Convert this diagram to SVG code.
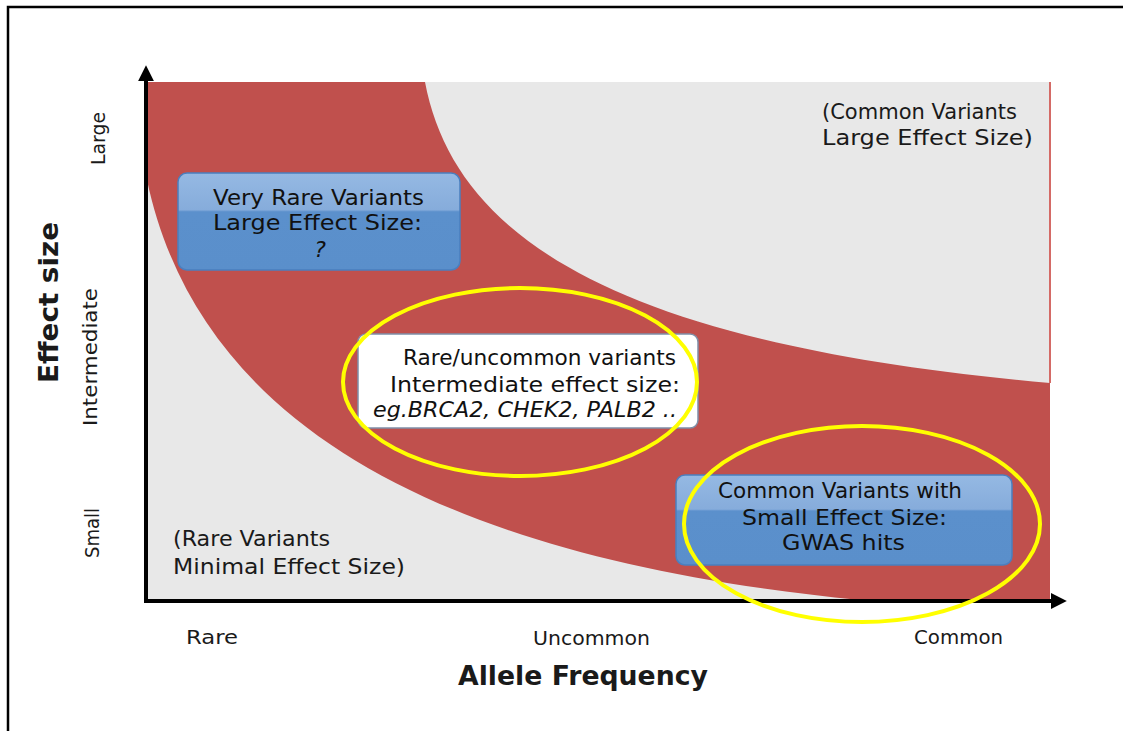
<svg xmlns="http://www.w3.org/2000/svg" width="1123" height="731" viewBox="0 0 1123 731">
  <defs>
    <style>
      .lbl { font-family: "Comic Sans MS", "DejaVu Sans", "Liberation Sans", sans-serif; fill: #1a1a1a; }
      .box-txt { font-size: 22px; fill: #111; }
      .note { font-size: 22px; }
      .tick { font-size: 20px; }
      .axis-title { font-size: 27px; font-weight: bold; }
      .axis { stroke: #000; stroke-width: 4; fill: none; }
      .ring { fill: none; stroke: #ffff00; stroke-width: 4; }
      .blue { fill: url(#gloss); stroke: #4a7fbf; stroke-width: 1.5; }
    </style>
    <linearGradient id="gloss" x1="0" y1="0" x2="0" y2="1">
      <stop offset="0" stop-color="#95b9e3"/>
      <stop offset="0.38" stop-color="#86acdb"/>
      <stop offset="0.4" stop-color="#5b90cc"/>
      <stop offset="1" stop-color="#5a8fcb"/>
    </linearGradient>
    <marker id="arrow" viewBox="0 0 10 10" refX="2" refY="5" markerWidth="4" markerHeight="4.5" orient="auto" markerUnits="strokeWidth">
      <path d="M0,0 L10,5 L0,10 z" fill="#000"/>
    </marker>
  </defs>

  <!-- outer frame -->
  <rect x="0" y="0" width="1123" height="731" fill="#fff"/>
  <path d="M8,731 V7 H1123" fill="none" stroke="#000" stroke-width="2.5"/>

  <!-- plot background and red band -->
  <g id="plot-area">
    <rect x="147" y="82" width="903" height="518" fill="#e8e8e8"/>
    <path d="M147,82 H425 C455,240 620,345 1050,383 V600 H860 C450,560 200,430 147,180 Z" fill="#c0504d"/>
    <line x1="1050" y1="82" x2="1050" y2="383" stroke="#d46a66" stroke-width="2"/>
  </g>

  <!-- axes -->
  <g id="connectors">
    <line class="axis" x1="146" y1="602" x2="146" y2="78" marker-end="url(#arrow)"/>
    <line class="axis" x1="144" y1="601" x2="1054" y2="601" marker-end="url(#arrow)"/>
  </g>

  <g id="node-very-rare">
    <rect class="blue" x="178" y="173" width="282" height="97" rx="9"/>
    <text class="lbl box-txt" x="213" y="205" textLength="211" lengthAdjust="spacingAndGlyphs">Very Rare Variants</text>
    <text class="lbl box-txt" x="213" y="230" textLength="209" lengthAdjust="spacingAndGlyphs">Large Effect Size:</text>
    <text class="lbl box-txt" x="320" y="257" font-style="italic" text-anchor="middle">?</text>
  </g>

  <g id="node-rare-uncommon">
    <rect x="358" y="334" width="340" height="94" rx="8" fill="#fff" stroke="#7f8fa8" stroke-width="1.5"/>
    <text class="lbl box-txt" x="403" y="365" textLength="273" lengthAdjust="spacingAndGlyphs">Rare/uncommon variants</text>
    <text class="lbl box-txt" x="390" y="392" textLength="290" lengthAdjust="spacingAndGlyphs">Intermediate effect size:</text>
    <text class="lbl box-txt" x="373" y="417" font-style="italic" textLength="304" lengthAdjust="spacingAndGlyphs">eg.BRCA2, CHEK2, PALB2 ..</text>
  </g>

  <g id="node-common-small">
    <rect class="blue" x="676" y="475" width="336" height="90" rx="9"/>
    <text class="lbl box-txt" x="718" y="498" textLength="244" lengthAdjust="spacingAndGlyphs">Common Variants with</text>
    <text class="lbl box-txt" x="742" y="525" textLength="205" lengthAdjust="spacingAndGlyphs">Small Effect Size:</text>
    <text class="lbl box-txt" x="782" y="550" textLength="123" lengthAdjust="spacingAndGlyphs">GWAS hits</text>
  </g>

  <g id="node-common-large">
    <text class="lbl note" x="822" y="119" textLength="195" lengthAdjust="spacingAndGlyphs">(Common Variants</text>
    <text class="lbl note" x="822" y="145" textLength="211" lengthAdjust="spacingAndGlyphs">Large Effect Size)</text>
  </g>

  <g id="node-rare-minimal">
    <text class="lbl note" x="173" y="546" textLength="157" lengthAdjust="spacingAndGlyphs">(Rare Variants</text>
    <text class="lbl note" x="173" y="574" textLength="232" lengthAdjust="spacingAndGlyphs">Minimal Effect Size)</text>
  </g>

  <!-- highlight rings -->
  <g id="highlights">
    <ellipse class="ring" cx="520" cy="382" rx="177" ry="94"/>
    <ellipse class="ring" cx="862" cy="524" rx="178" ry="98"/>
  </g>

  <!-- axis labels -->
  <g id="x-axis-labels">
    <text class="lbl tick" x="186" y="644" textLength="52" lengthAdjust="spacingAndGlyphs">Rare</text>
    <text class="lbl tick" x="533" y="645" textLength="117" lengthAdjust="spacingAndGlyphs">Uncommon</text>
    <text class="lbl tick" x="914" y="644" textLength="89" lengthAdjust="spacingAndGlyphs">Common</text>
    <text class="lbl axis-title" x="458" y="685" textLength="250" lengthAdjust="spacingAndGlyphs">Allele Frequency</text>
  </g>
  <g id="y-axis-labels">
    <text class="lbl tick" transform="translate(105,165) rotate(-90)" textLength="53" lengthAdjust="spacingAndGlyphs">Large</text>
    <text class="lbl tick" transform="translate(97,426) rotate(-90)" textLength="138" lengthAdjust="spacingAndGlyphs">Intermediate</text>
    <text class="lbl tick" transform="translate(99,558) rotate(-90)" textLength="50" lengthAdjust="spacingAndGlyphs">Small</text>
    <text class="lbl axis-title" transform="translate(58,383) rotate(-90)" textLength="161" lengthAdjust="spacingAndGlyphs">Effect size</text>
  </g>
</svg>
